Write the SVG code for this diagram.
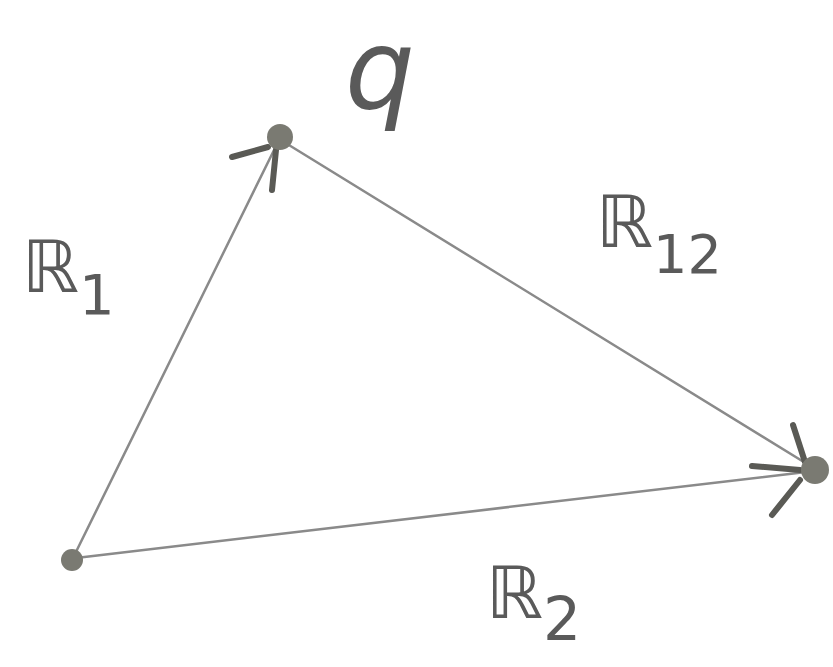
<svg xmlns="http://www.w3.org/2000/svg" width="833" height="667" viewBox="0 0 833 667">
<style>
.edge{stroke:#8a8a8a;stroke-width:2.5;fill:none;stroke-linecap:round}
.head{stroke:#5a5a55;stroke-width:6;fill:none;stroke-linecap:round}
.pt{fill:#7a7a72}
.lbl{font-family:"DejaVu Sans",sans-serif;fill:#5a5a5a}
</style>
<rect width="833" height="667" fill="#ffffff"/>
<g id="connectors">
<line class="edge" x1="72" y1="560" x2="278" y2="142"/>
<line class="edge" x1="284" y1="142" x2="812" y2="467"/>
<line class="edge" x1="76" y1="558" x2="806" y2="472"/>
<path class="head" d="M232,157 L268,147 M276,150 L272,190"/>
<path class="head" d="M793,425 L805,462 M752,466 L800,470 M772,515 L800,480"/>
</g>
<g id="node-origin"><circle class="pt" cx="72" cy="560" r="11"/></g>
<g id="node-q"><circle class="pt" cx="280" cy="137" r="13"/>
<text class="lbl" x="345" y="108" font-size="110" font-style="italic" font-family="Liberation Serif, serif">q</text></g>
<g id="node-target"><circle class="pt" cx="815" cy="470" r="14"/></g>
<g id="label-r1"><text class="lbl" x="22" y="292" font-size="72">ℝ<tspan font-size="56" dy="22">1</tspan></text></g>
<g id="label-r12"><text class="lbl" x="596" y="247" font-size="72">ℝ<tspan font-size="54" dy="26">12</tspan></text></g>
<g id="label-r2"><text class="lbl" x="486" y="618" font-size="72">ℝ<tspan font-size="60" dy="22">2</tspan></text></g>
</svg>
